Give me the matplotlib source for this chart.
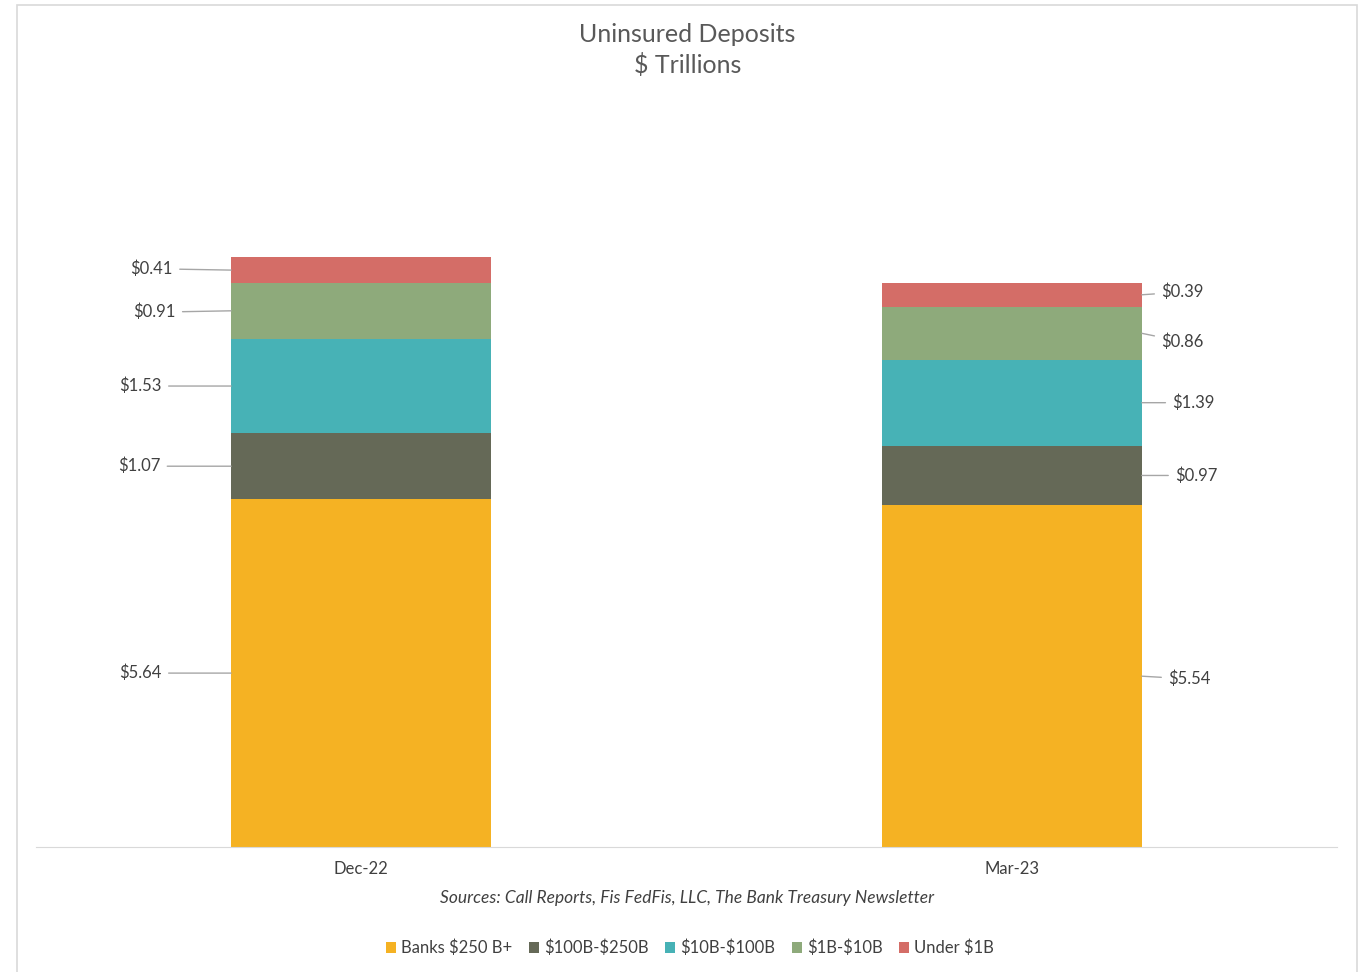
import matplotlib
matplotlib.use("Agg")
import matplotlib.pyplot as plt
from matplotlib.patches import Patch, Rectangle

# Data
periods = ["Dec-22", "Mar-23"]
series = ["Banks $250 B+", "$100B-$250B", "$10B-$100B", "$1B-$10B", "Under $1B"]
banks_250b = [5.64, 5.54]
b100_250 = [1.07, 0.97]
b10_100 = [1.53, 1.39]
b1_10 = [0.91, 0.86]
under_1b = [0.41, 0.39]
values = [banks_250b, b100_250, b10_100, b1_10, under_1b]

colors = ["#F5B223", "#656957", "#47B2B6", "#8EAA7B", "#D46D67"]

# label offsets (points) from bar edge: (dx, dy) per series
offsets_left = [(-50, 0), (-51, 0), (-50, 0), (-40, -1), (-42, 1)]
offsets_right = [(19, -2), (24, 0), (22, 0), (14, -6), (14, 2)]

plt.rcParams['font.family'] = ['Lato', 'DejaVu Sans']
plt.rcParams['text.parse_math'] = False
text_color = "#404040"

fig = plt.figure(figsize=(13.61, 9.72), dpi=100)
ax = fig.add_axes([36 / 1361, 1 - 847 / 972, 1301 / 1361, (847 - 107) / 972])

x = list(range(len(periods)))
width = 0.4
bottoms = [0.0] * len(periods)
for vals, name, col in zip(values, series, colors):
    ax.bar(x, vals, width, bottom=bottoms, color=col, label=name, zorder=2)
    bottoms = [b + v for b, v in zip(bottoms, vals)]

# data labels with leader lines
bottoms = [0.0] * len(periods)
for si, vals in enumerate(values):
    for pi, v in enumerate(vals):
        mid = bottoms[pi] + v / 2
        if pi == 0:
            xe = x[pi] - width / 2
            off = offsets_left[si]
            ha = 'right'
        else:
            xe = x[pi] + width / 2
            off = offsets_right[si]
            ha = 'left'
        ax.annotate(f"${v:.2f}", xy=(xe, mid), xytext=off,
                    textcoords='offset points', ha=ha, va='center',
                    fontsize=12, color=text_color,
                    arrowprops=dict(arrowstyle='-', color='#A6A6A6', lw=1,
                                    shrinkA=3, shrinkB=0))
        bottoms[pi] += v

ax.set_xlim(-0.5, 1.5)
ax.set_ylim(0, 12)
ax.set_xticks(x)
ax.set_xticklabels(periods, fontsize=12, color=text_color)
ax.tick_params(axis='x', length=0, pad=10)
ax.set_yticks([])
for s in ['top', 'right', 'left']:
    ax.spines[s].set_visible(False)
ax.spines['bottom'].set_color('#D9D9D9')

fig.text(0.505, 1 - 50 / 972, "Uninsured Deposits\n$ Trillions", ha='center',
         va='center', fontsize=18, color='#595959', linespacing=1.38)
fig.text(0.505, 1 - 898 / 972,
         "Sources: Call Reports, Fis FedFis, LLC, The Bank Treasury Newsletter",
         ha='center', va='center', fontsize=12.5, style='italic',
         color=text_color)

handles = [Patch(facecolor=c, label=n) for c, n in zip(colors, series)]
fig.legend(handles=handles, loc='center', bbox_to_anchor=(0.507, 1 - 948 / 972),
           ncol=5, frameon=False, fontsize=12, handlelength=0.6,
           handleheight=0.6, handletextpad=0.3, columnspacing=1.0,
           labelcolor=text_color)

fig.patches.append(Rectangle((17 / 1361, -0.01), 1340 / 1361, 1 - 5 / 972 + 0.01,
                             transform=fig.transFigure, fill=False,
                             edgecolor='#D9D9D9', lw=1.2))

fig.savefig("out.png", dpi=100)
